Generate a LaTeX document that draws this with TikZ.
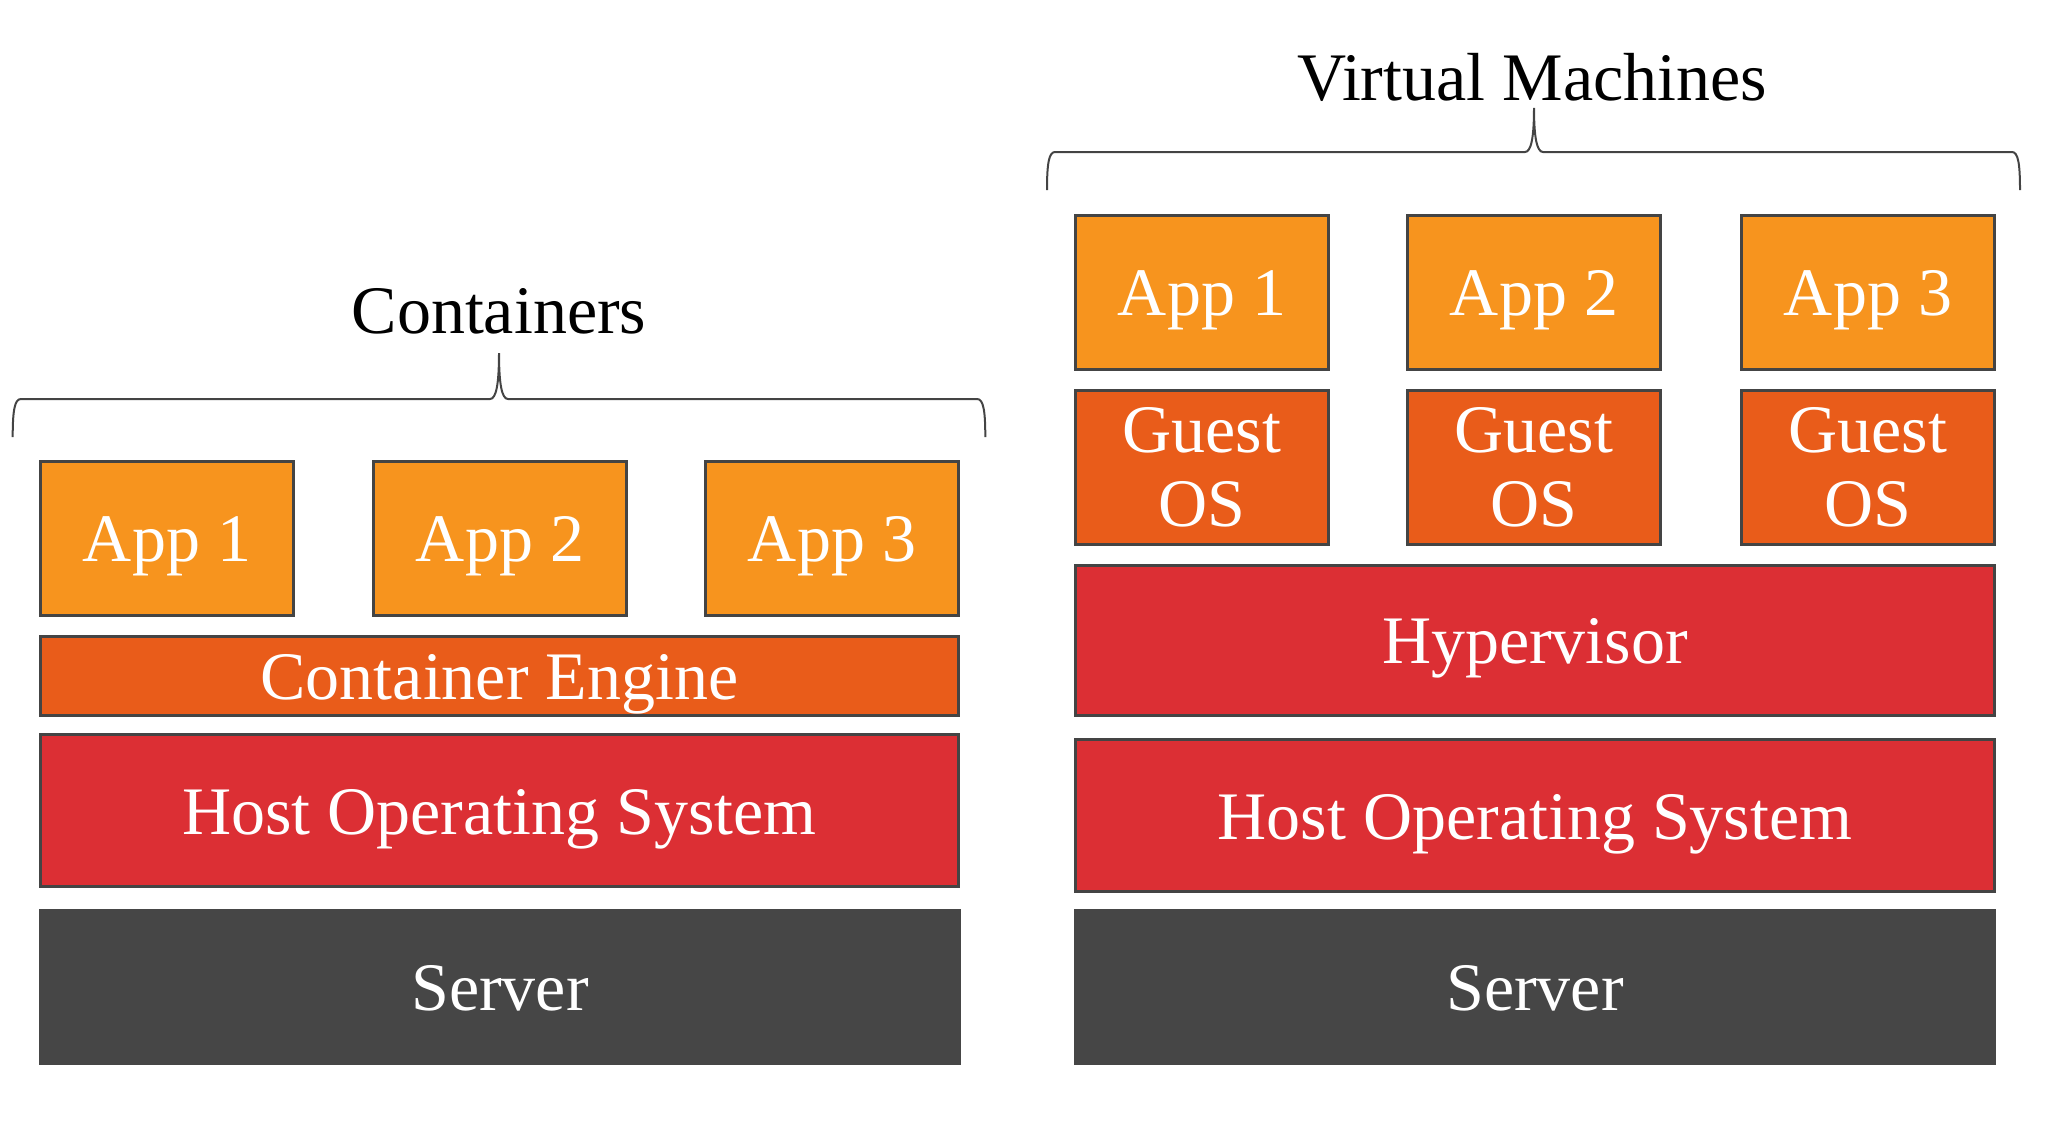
\documentclass[tikz,border=0pt]{standalone}
\usepackage{fontspec}
\setmainfont{Liberation Serif}
\usetikzlibrary{fit}
\definecolor{appc}{RGB}{247,148,30}
\definecolor{enginec}{RGB}{233,92,26}
\definecolor{hostc}{RGB}{220,47,52}
\definecolor{serverc}{RGB}{70,70,70}
\definecolor{edgec}{RGB}{68,68,68}
\tikzset{
  layer/.style={draw=edgec, line width=1.5pt, inner sep=0pt},
  appbox/.style={layer, fill=appc},
  enginebox/.style={layer, fill=enginec},
  hostbox/.style={layer, fill=hostc},
  serverbox/.style={layer, draw=none, fill=serverc},
  lbl/.style={anchor=base, inner sep=0pt, text=white, font=\fontsize{34}{37.3}\selectfont},
  lbltwo/.style={anchor=center, inner sep=0pt, text=white, align=center, font=\fontsize{34}{37.3}\selectfont},
  title/.style={anchor=base, inner sep=0pt, font=\fontsize{34}{37.3}\selectfont, text=black},
  bracestyle/.style={draw=edgec, line width=1pt}
}
\begin{document}
\begin{tikzpicture}[x=0.5pt,y=-0.5pt]
\useasboundingbox (0,0) rectangle (2062,1136);
% ---------- Containers ----------
\node[appbox, fit={(40.5,461.5) (293.5,615.5)}] (cA1) {};
\node[appbox, fit={(373.5,461.5) (626.5,615.5)}] (cA2) {};
\node[appbox, fit={(705.5,461.5) (958.5,615.5)}] (cA3) {};
\node[enginebox, fit={(40.5,636.5) (958.5,715.5)}] (cEng) {};
\node[hostbox, fit={(40.5,734.5) (958.5,886.5)}] (cHost) {};
\node[serverbox, fit={(39,909) (961,1065)}] (cSrv) {};
\node[lbl] (cA1t) at ([yshift=-11.5pt]cA1.center) {App 1};
\node[lbl] (cA2t) at ([yshift=-11.5pt]cA2.center) {App 2};
\node[lbl] (cA3t) at ([yshift=-11.5pt]cA3.center) {App 3};
\node[lbl] (cEngt) at ([yshift=-11.5pt]cEng.center) {Container Engine};
\node[lbl] (cHostt) at ([yshift=-12pt]cHost.center) {Host Operating System};
\node[lbl] (cSrvt) at ([yshift=-11.5pt]cSrv.center) {Server};
\node[title] (cTitle) at (499,333) {Containers};
\coordinate (cTip) at (499,353);
\draw[bracestyle] (12.7,437) .. controls (12.7,411) and (14.5,399) .. (21,399)
  -- (490,399) .. controls (496,399) and (499,385) .. (cTip)
  .. controls (499,385) and (502,399) .. (508,399)
  -- (977,399) .. controls (983.5,399) and (985.3,411) .. (985.3,437);
% ---------- Virtual Machines ----------
\node[appbox, fit={(1075.5,215.5) (1328.5,369.5)}] (vA1) {};
\node[appbox, fit={(1407.5,215.5) (1660.5,369.5)}] (vA2) {};
\node[appbox, fit={(1741.5,215.5) (1994.5,369.5)}] (vA3) {};
\node[enginebox, fit={(1075.5,390.5) (1328.5,544.5)}] (vG1) {};
\node[enginebox, fit={(1407.5,390.5) (1660.5,544.5)}] (vG2) {};
\node[enginebox, fit={(1741.5,390.5) (1994.5,544.5)}] (vG3) {};
\node[hostbox, fit={(1075.5,565.5) (1994.5,715.5)}] (vHyp) {};
\node[hostbox, fit={(1075.5,739.5) (1994.5,891.5)}] (vHost) {};
\node[serverbox, fit={(1074,909) (1996,1065)}] (vSrv) {};
\node[lbl] (vA1t) at ([yshift=-11.5pt]vA1.center) {App 1};
\node[lbl] (vA2t) at ([yshift=-11.5pt]vA2.center) {App 2};
\node[lbl] (vA3t) at ([yshift=-11.5pt]vA3.center) {App 3};
\node[lbltwo] (vG1t) at (vG1.center) {Guest\\OS};
\node[lbltwo] (vG2t) at (vG2.center) {Guest\\OS};
\node[lbltwo] (vG3t) at (vG3.center) {Guest\\OS};
\node[lbl] (vHypt) at ([yshift=-11.5pt]vHyp.center) {Hypervisor};
\node[lbl] (vHostt) at ([yshift=-12pt]vHost.center) {Host Operating System};
\node[lbl] (vSrvt) at ([yshift=-11.5pt]vSrv.center) {Server};
\node[title] (vTitle) at (1532,100) {Virtual Machines};
\coordinate (vTip) at (1534,108);
\draw[bracestyle] (1047,190) .. controls (1047,164) and (1048.8,152) .. (1055,152)
  -- (1525,152) .. controls (1531,152) and (1534,138) .. (vTip)
  .. controls (1534,138) and (1537,152) .. (1543,152)
  -- (2012,152) .. controls (2018.2,152) and (2020,164) .. (2020,190);
\end{tikzpicture}
\end{document}
